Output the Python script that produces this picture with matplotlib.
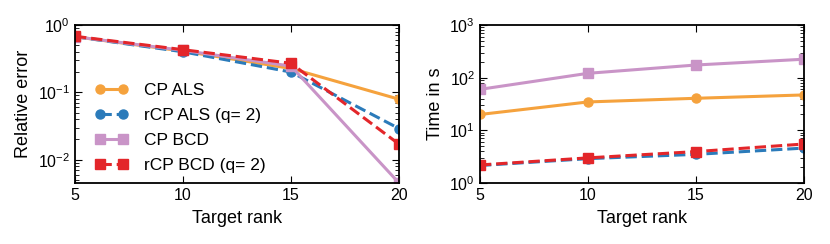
import matplotlib.pyplot as plt

plt.rcParams['font.family'] = ['Liberation Sans', 'DejaVu Sans']

ranks = [5, 10, 15, 20]

err_cp_als = [0.67, 0.41, 0.226, 0.079]
err_rcp_als = [0.67, 0.40, 0.20, 0.029]
err_cp_bcd = [0.67, 0.42, 0.245, 0.0045]
err_rcp_bcd = [0.68, 0.43, 0.27, 0.017]

time_cp_als = [20, 34.6, 40.6, 47]
time_rcp_als = [2.15, 2.9, 3.5, 4.6]
time_cp_bcd = [60, 121, 174, 224]
time_rcp_bcd = [2.2, 3.0, 3.95, 5.5]

orange = '#f5a23d'
blue = '#2b7bba'
pink = '#c994c7'
red = '#e3262a'

fig = plt.figure(figsize=(8.3, 2.44), dpi=100)
ax1 = fig.add_axes([75 / 830, 1 - 183 / 244, 324 / 830, 158 / 244])
ax2 = fig.add_axes([480 / 830, 1 - 183 / 244, 324 / 830, 158 / 244])

lw = 2.2
ms = 6.5
ax1.plot(ranks, err_cp_als, '-', color=orange, marker='o', lw=lw, ms=ms, label='CP ALS')
ax1.plot(ranks, err_rcp_als, '--', color=blue, marker='o', lw=lw, ms=ms, label='rCP ALS (q= 2)')
ax1.plot(ranks, err_cp_bcd, '-', color=pink, marker='s', lw=lw, ms=ms, label='CP BCD')
ax1.plot(ranks, err_rcp_bcd, '--', color=red, marker='s', lw=lw, ms=ms, label='rCP BCD (q= 2)')

ax2.plot(ranks, time_cp_als, '-', color=orange, marker='o', lw=lw, ms=ms)
ax2.plot(ranks, time_rcp_als, '--', color=blue, marker='o', lw=lw, ms=ms)
ax2.plot(ranks, time_cp_bcd, '-', color=pink, marker='s', lw=lw, ms=ms)
ax2.plot(ranks, time_rcp_bcd, '--', color=red, marker='s', lw=lw, ms=ms)

ax1.set_yscale('log')
ax1.set_ylim(0.0045, 1)
ax1.set_ylabel('Relative error', fontsize=13)

ax2.set_yscale('log')
ax2.set_ylim(1, 1000)
ax2.set_ylabel('Time in s', fontsize=13)

for ax in (ax1, ax2):
    ax.set_xlim(5, 20)
    ax.set_xticks(ranks)
    ax.set_xlabel('Target rank', fontsize=13, labelpad=5)
    ax.tick_params(which='both', direction='in', top=True, right=True, labelsize=11.5)
    ax.tick_params(which='major', length=5)
    ax.tick_params(which='minor', length=3)
    for s in ax.spines.values():
        s.set_linewidth(1.3)

ax1.legend(loc='lower left', bbox_to_anchor=(0.03, 0.0), frameon=False, fontsize=12.5,
           numpoints=2, handlelength=1.9, handletextpad=0.9, labelspacing=0.55,
           borderaxespad=0.2)

fig.savefig('out.png', dpi=100)
